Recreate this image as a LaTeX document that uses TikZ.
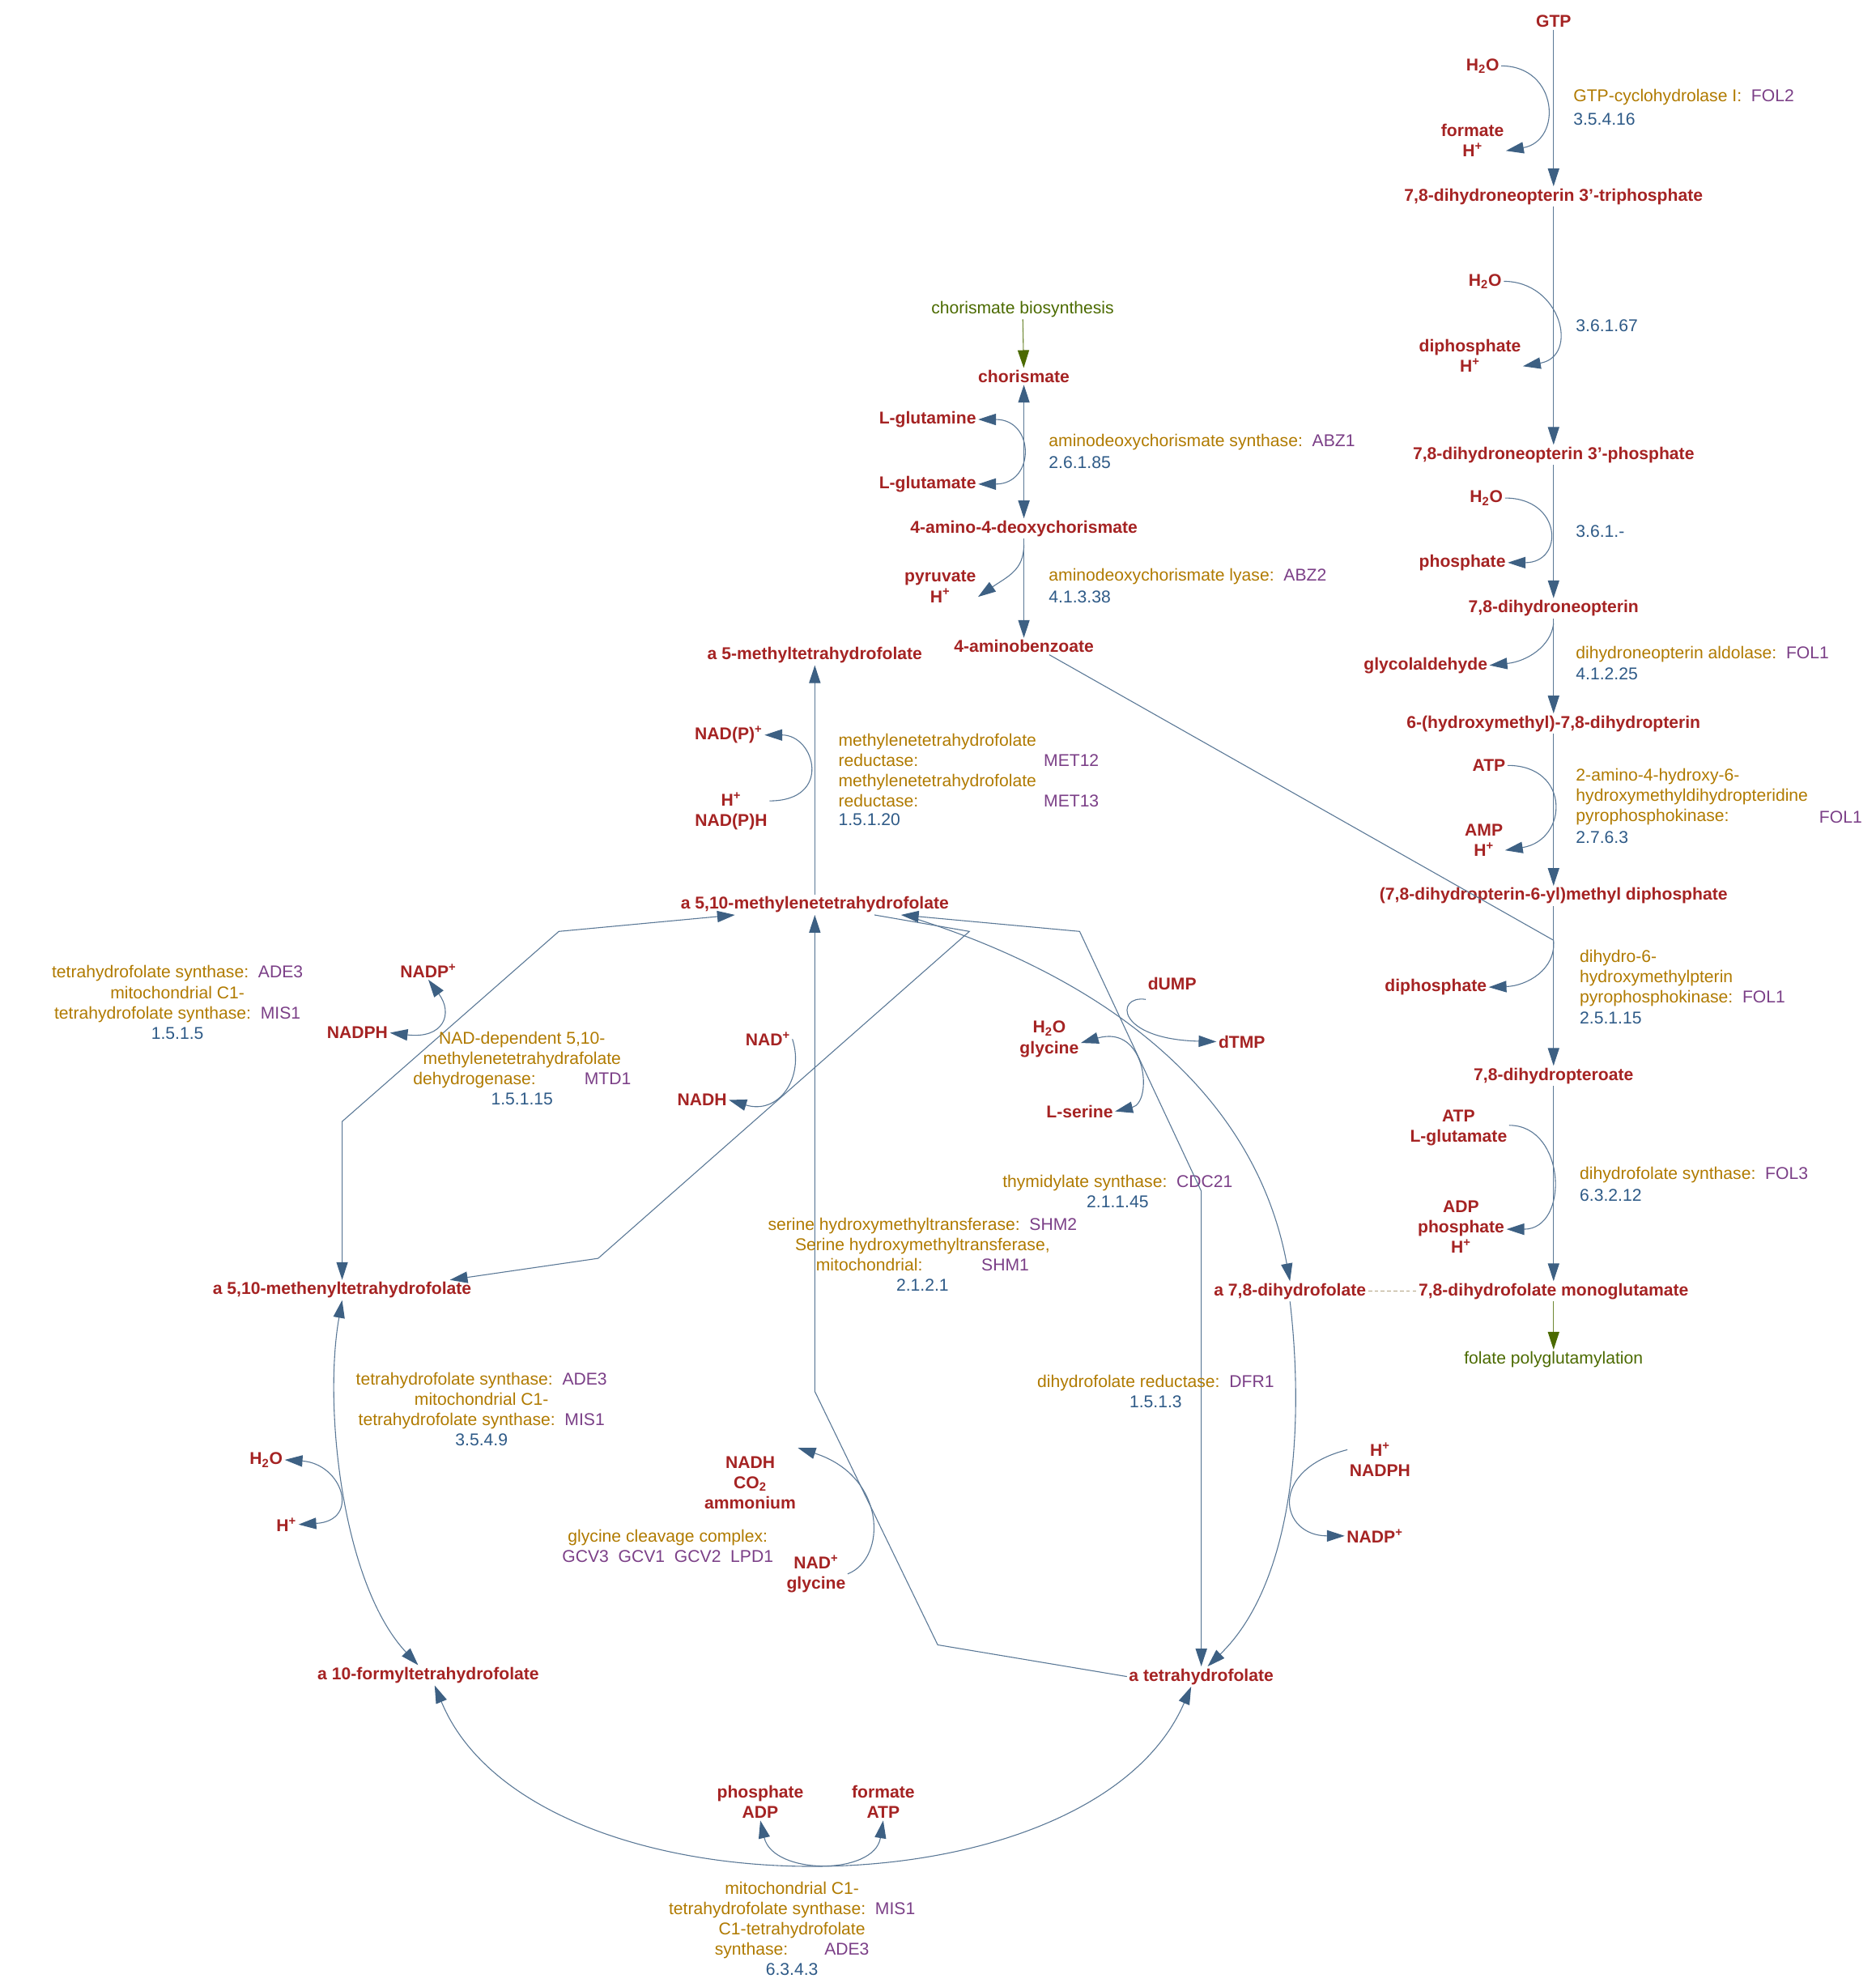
\documentclass[tikz,border=0pt]{standalone}
\usepackage{fontspec}
\setmainfont{Liberation Sans}
\usetikzlibrary{arrows.meta,calc}
\definecolor{metred}{HTML}{A52323}
\definecolor{enz}{HTML}{B07A00}
\definecolor{gene}{HTML}{7B3F87}
\definecolor{ecc}{HTML}{2E5A87}
\definecolor{linec}{HTML}{5A7896}
\definecolor{arrc}{HTML}{3D6083}
\definecolor{grn}{HTML}{4B6A00}
\definecolor{dash}{HTML}{B0A080}
\newcommand{\Hp}{H\textsuperscript{+}}
\newcommand{\Hw}{H\textsubscript{2}O}
\begin{document}
\begin{tikzpicture}[x=1pt,y=-1pt,
  every node/.style={font=\fontsize{13.5}{16}\selectfont, inner sep=1.5pt},
  met/.style={font=\fontsize{13.5}{16}\selectfont\bfseries, text=metred, align=center},
  lab/.style={anchor=west, text=enz},
  labc/.style={text=enz, align=center},
  pth/.style={text=grn},
  ln/.style={draw=linec, line width=0.7pt},
  ar/.style={ln, -{Triangle[length=14pt,width=9pt,color=arrc]}},
  bi/.style={ln, {Triangle[length=14pt,width=9pt,color=arrc]}-{Triangle[length=14pt,width=9pt,color=arrc]}},
  gar/.style={draw=grn!80, line width=0.7pt, -{Triangle[length=14pt,width=9pt,color=grn]}}]
\useasboundingbox (0,0) rectangle (1480,1568);
% ---------- right column ----------
\node[met] (gtp) at (1226,17) {GTP};
\node[met] (dnp3) at (1226,155) {7,8-dihydroneopterin 3'-triphosphate};
\node[met] (dnp1) at (1226,359) {7,8-dihydroneopterin 3'-phosphate};
\node[met] (dnp) at (1226,480) {7,8-dihydroneopterin};
\node[met] (hmd) at (1226,571) {6-(hydroxymethyl)-7,8-dihydropterin};
\node[met] (dpd) at (1226,707) {(7,8-dihydropterin-6-yl)methyl diphosphate};
\node[met] (dhp) at (1226,849) {7,8-dihydropteroate};
\node[met] (dhfm) at (1226,1019) {7,8-dihydrofolate monoglutamate};
\node[pth] (fpg) at (1226,1073) {folate polyglutamylation};
\draw[ar] (gtp) -- (dnp3);
\draw[ar] (dnp3) -- (dnp1);
\draw[ar] (dnp1) -- (dnp);
\draw[ar] (dnp) -- (hmd);
\draw[ar] (hmd) -- (dpd);
\draw[ar] (dpd) -- (dhp);
\draw[ar] (dhp) -- (dhfm);
\draw[gar] (dhfm) -- (fpg);
% side metabolites
\node[met] (w1) at (1170,52) {\Hw};
\node[met] (f1) at (1162,111) {formate\\\Hp};
\draw[ar] (w1.east) .. controls +(45,0) and +(45,-8) .. ([yshift=-8]f1.east);
\node[met] (w2) at (1172,222) {\Hw};
\node[met] (dp2) at (1160,281) {diphosphate\\\Hp};
\draw[ar] (w2.east) .. controls +(45,0) and +(45,-8) .. ([yshift=-8]dp2.east);
\node[met] (w3) at (1173,393) {\Hw};
\node[met] (ph3) at (1154,444) {phosphate};
\draw[ar] (w3.east) .. controls +(45,0) and +(45,0) .. (ph3.east);
\node[met] (gla) at (1125,525) {glycolaldehyde};
\coordinate (c4) at (1226,492);
\draw[ar] (c4) .. controls (1224,510) and (1205,522) .. (gla.east);
\node[met] (atp5) at (1175,604) {ATP};
\node[met] (amp5) at (1171,663) {AMP\\\Hp};
\draw[ar] (atp5.east) .. controls +(50,0) and +(50,-8) .. ([yshift=-8]amp5.east);
\node[met] (dp6) at (1133,779) {diphosphate};
\coordinate (j1) at (1226,742);
\draw[ar] (j1) .. controls (1228,765) and (1205,778) .. (dp6.east);
\node[met] (atp7) at (1151,890) {ATP\\L-glutamate};
\node[met] (adp7) at (1153,968) {ADP\\phosphate\\\Hp};
\draw[ar] ([yshift=2]atp7.east) .. controls +(45,0) and +(50,0) .. ([yshift=-2]adp7.east);
% enzyme labels right
\node[lab] (e1) at (1240,77) {GTP-cyclohydrolase I:\ \ \textcolor{gene}{FOL2}};
\node[lab,text=ecc] (x1) at (1240,94) {3.5.4.16};
\node[lab,text=ecc] (x2) at (1242,257) {3.6.1.67};
\node[lab,text=ecc] (x3) at (1242,419) {3.6.1.-};
\node[lab] (e4) at (1242,516) {dihydroneopterin aldolase:\ \ \textcolor{gene}{FOL1}};
\node[lab,text=ecc] (x4) at (1242,532) {4.1.2.25};
\node[lab] (e5a) at (1242,613) {2-amino-4-hydroxy-6-};
\node[lab] (e5b) at (1242,629) {hydroxymethyldihydropteridine};
\node[lab] (e5c) at (1242,645) {pyrophosphokinase:};
\node[lab,text=gene] (g5) at (1434,645) {FOL1};
\node[lab,text=ecc] (x5) at (1242,661) {2.7.6.3};
\node[lab] (e6a) at (1245,756) {dihydro-6-};
\node[lab] (e6b) at (1245,772) {hydroxymethylpterin};
\node[lab] (e6c) at (1245,788) {pyrophosphokinase:\ \ \textcolor{gene}{FOL1}};
\node[lab,text=ecc] (x6) at (1245,803) {2.5.1.15};
\node[lab] (e7) at (1245,927) {dihydrofolate synthase:\ \ \textcolor{gene}{FOL3}};
\node[lab,text=ecc] (x7) at (1245,943) {6.3.2.12};
% ---------- middle column ----------
\node[pth] (chb) at (807,244) {chorismate biosynthesis};
\node[met] (chor) at (808,297) {chorismate};
\node[met] (adc) at (808,417) {4-amino-4-deoxychorismate};
\node[met] (pab) at (808,510) {4-aminobenzoate};
\draw[gar] (chb) -- (chor);
\draw[bi] (chor) -- (adc);
\draw[ar] (adc) -- (pab);
\draw[ln] ([xshift=20]pab.south) -- (j1);
\node[met] (gln) at (732,331) {L-glutamine};
\node[met] (glu) at (732,382) {L-glutamate};
\draw[bi] (gln.east) .. controls +(45,0) and +(45,0) .. (glu.east);
\node[met] (pyr) at (742,463) {pyruvate\\\Hp};
\coordinate (c8) at (808,430);
\draw[ar] (c8) .. controls (808,450) and (795,455) .. ([yshift=-8]pyr.east);
\node[lab] (e8) at (826,349) {aminodeoxychorismate synthase:\ \ \textcolor{gene}{ABZ1}};
\node[lab,text=ecc] (x8) at (826,365) {2.6.1.85};
\node[lab] (e9) at (826,455) {aminodeoxychorismate lyase:\ \ \textcolor{gene}{ABZ2}};
\node[lab,text=ecc] (x9) at (826,471) {4.1.3.38};
% ---------- folate cycle ----------
\node[met] (m5) at (643,517) {a 5-methyltetrahydrofolate};
\node[met] (mthf) at (643,714) {a 5,10-methylenetetrahydrofolate};
\node[met] (meth) at (270,1018) {a 5,10-methenyltetrahydrofolate};
\node[met] (form) at (338,1322) {a 10-formyltetrahydrofolate};
\node[met] (thf) at (948,1323) {a tetrahydrofolate};
\node[met] (dhf) at (1018,1019) {a 7,8-dihydrofolate};
\draw[ln, dash pattern=on 3pt off 2pt, draw=dash] (dhf.east) -- (dhfm.west);
% MTHFR
\draw[ar] (mthf) -- (m5);
\node[met] (nadp1) at (575,580) {NAD(P)\textsuperscript{+}};
\node[met] (nadph1) at (577,640) {\Hp\\NAD(P)H};
\draw[ar] ([yshift=8]nadph1.east) .. controls +(50,0) and +(40,0) .. (nadp1.east);
\node[lab] (e10a) at (660,585) {methylenetetrahydrofolate};
\node[lab] (e10b) at (660,600) {reductase:};
\node[lab,text=gene] (g10b) at (822,600) {MET12};
\node[lab] (e10c) at (660,617) {methylenetetrahydrofolate};
\node[lab] (e10d) at (660,632) {reductase:};
\node[lab,text=gene] (g10d) at (822,632) {MET13};
\node[lab,text=ecc] (x10) at (660,647) {1.5.1.20};
% MTD1 / ADE3 route
\coordinate (p1) at (441,735);
\coordinate (p2) at (270,885);
\draw[bi] ([xshift=-63]mthf.south) -- (p1) -- (p2) -- (meth.north);
\node[met] (nadpp) at (338,766) {NADP\textsuperscript{+}};
\node[met] (nadph2) at (282,815) {NADPH};
\draw[bi] (nadph2.east) .. controls (350,820) and (358,800) .. (nadpp.south);
\node[labc] (e11) at (140,791) {tetrahydrofolate synthase:\ \ \textcolor{gene}{ADE3}\\mitochondrial C1-\\tetrahydrofolate synthase:\ \ \textcolor{gene}{MIS1}\\\textcolor{ecc}{1.5.1.5}};
\node[labc] (e12) at (412,843) {NAD-dependent 5,10-\\methylenetetrahydrafolate\\dehydrogenase:\hspace{75pt}\llap{\textcolor{gene}{MTD1}}\\\textcolor{ecc}{1.5.1.15}};
% second methenyl route
\coordinate (q1) at (765,735);
\coordinate (q2) at (472,993);
\draw[ar] ([xshift=47]mthf.south) -- (q1) -- (q2) -- ([xshift=85]meth.north);
\node[met] (nadp3) at (606,820) {NAD\textsuperscript{+}};
\node[met] (nadh3) at (554,868) {NADH};
\draw[ar] (nadp3.east) .. controls (635,850) and (615,880) .. (nadh3.east);
% methenyl <-> formyl
\draw[bi] (meth.south) .. controls (255,1110) and (270,1250) .. ([xshift=-8]form.north);
\node[met] (w12) at (210,1152) {\Hw};
\node[met] (h12) at (226,1203) {\Hp};
\draw[bi] (w12.east) .. controls (270,1155) and (285,1200) .. (h12.east);
\node[labc] (e13) at (380,1112) {tetrahydrofolate synthase:\ \ \textcolor{gene}{ADE3}\\mitochondrial C1-\\tetrahydrofolate synthase:\ \ \textcolor{gene}{MIS1}\\\textcolor{ecc}{3.5.4.9}};
% formyl <-> thf
\draw[bi] ([xshift=5]form.south) .. controls (420,1516) and (860,1516) .. ([xshift=-8]thf.south);
\node[met] (adp14) at (600,1422) {phosphate\\ADP};
\node[met] (atp14) at (697,1422) {formate\\ATP};
\draw[bi] (adp14.south) .. controls (610,1480) and (690,1480) .. (atp14.south);
\node[labc] (e14) at (625,1522) {mitochondrial C1-\\tetrahydrofolate synthase:\ \ \textcolor{gene}{MIS1}\\C1-tetrahydrofolate\\synthase:\hspace{64pt}\llap{\textcolor{gene}{ADE3}}\\\textcolor{ecc}{6.3.4.3}};
% SHM
\coordinate (s1) at (740,1298);
\coordinate (s2) at (643,1098);
\draw[ar] (thf.west) -- (s1) -- (s2) -- (mthf.south);
\node[met] (gly5) at (828,820) {\Hw\\glycine};
\node[met] (ser5) at (852,877) {L-serine};
\draw[bi] ([yshift=-3]gly5.east) .. controls (905,808) and (910,870) .. (ser5.east);
\node[labc] (e15) at (728,990) {serine hydroxymethyltransferase:\ \ \textcolor{gene}{SHM2}\\Serine hydroxymethyltransferase,\\mitochondrial:\hspace{84pt}\llap{\textcolor{gene}{SHM1}}\\\textcolor{ecc}{2.1.2.1}};
% TYMS
\draw[ar] ([xshift=70]mthf.south) .. controls (870,770) and (990,860) .. (dhf.north);
\node[met] (dump) at (925,776) {dUMP};
\node[met] (dtmp) at (980,822) {dTMP};
\draw[ar] ([yshift=-6]dump.south west) .. controls (880,785) and (880,820) .. (dtmp.west);
\node[labc] (e16) at (882,940) {thymidylate synthase:\ \ \textcolor{gene}{CDC21}\\\textcolor{ecc}{2.1.1.45}};
% glycine cleavage
\coordinate (g1) at (852,735);
\coordinate (g2) at (948,940);
\draw[bi] ([xshift=68]mthf.south) -- (g1) -- (g2) -- (thf.north);
\node[met] (nadh9) at (592,1170) {NADH\\CO\textsubscript{2}\\ammonium};
\node[met] (nad9) at (644,1242) {NAD\textsuperscript{+}\\glycine};
\draw[ar] (nad9.east) .. controls (700,1230) and (700,1165) .. ([yshift=5]nadh9.north east);
\node[labc] (e17) at (527,1220) {glycine cleavage complex:\\\textcolor{gene}{GCV3\ \ GCV1\ \ GCV2\ \ LPD1}};
% DHFR
\draw[ar] (dhf.south) .. controls (1030,1130) and (1020,1250) .. ([xshift=5]thf.north);
\node[met] (nadph6) at (1089,1152) {\Hp\\NADPH};
\node[met] (nadpp6) at (1085,1212) {NADP\textsuperscript{+}};
\draw[ar] ([yshift=8]nadph6.west) .. controls (1000,1160) and (1010,1212) .. (nadpp6.west);
\node[labc] (e18) at (912,1098) {dihydrofolate reductase:\ \ \textcolor{gene}{DFR1}\\\textcolor{ecc}{1.5.1.3}};
\end{tikzpicture}
\end{document}
